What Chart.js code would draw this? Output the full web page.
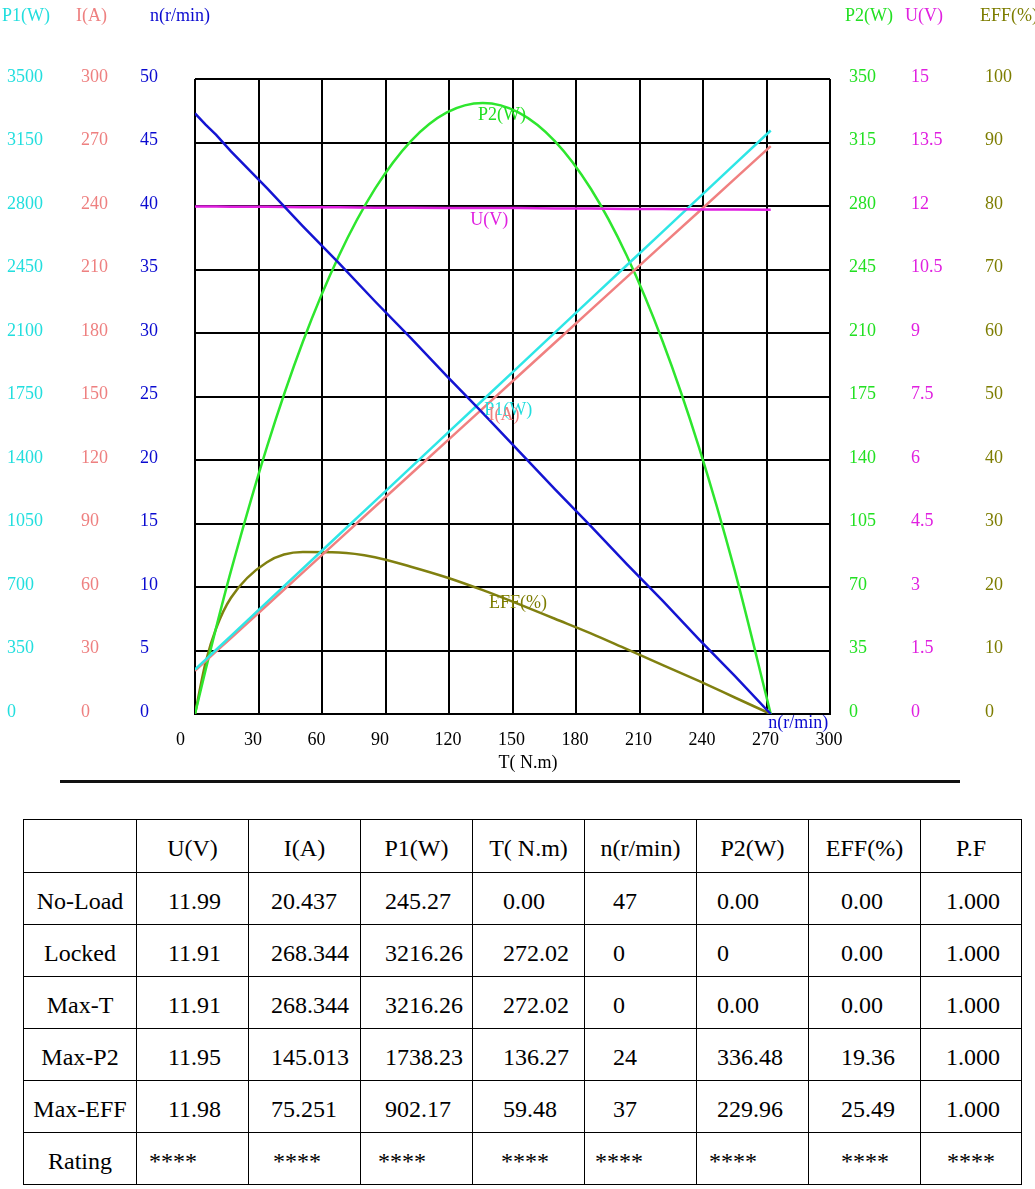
<!DOCTYPE html>
<html>
<head>
<meta charset="utf-8">
<script src="https://cdn.jsdelivr.net/npm/chart.js@4.4.1/dist/chart.umd.min.js"></script>
<style>
html,body{margin:0;padding:0;overflow:hidden;background:#fff;width:1035px;height:1189px;}
#wrap{position:absolute;left:0;top:0;width:1035px;height:780px;}
#rule{position:absolute;left:60px;top:780px;width:900px;height:3px;background:#111;}
table{position:absolute;left:23px;top:819px;width:998px;border-collapse:collapse;table-layout:fixed;
  font-family:"Liberation Serif","Times New Roman",serif;font-size:24px;color:#000;}
td{border:1px solid #000;padding:5px 0 0 0;white-space:nowrap;vertical-align:middle;text-align:left;}
tr{height:52px;}
tr.head{height:53px;}
tr.head td{text-align:center;}
td.name{text-align:center;}
tr.data td:nth-child(2){padding-left:31px;}
tr.data td:nth-child(3){padding-left:22px;}
tr.data td:nth-child(4){padding-left:24px;}
tr.data td:nth-child(5){padding-left:30px;}
tr.data td:nth-child(6){padding-left:28px;}
tr.data td:nth-child(7){padding-left:20px;}
tr.data td:nth-child(8){padding-left:32px;}
tr.data td:nth-child(9){padding-left:25px;}
tr.stars td:nth-child(2){padding-left:12px;}
tr.stars td:nth-child(3){padding-left:24px;}
tr.stars td:nth-child(4){padding-left:17px;}
tr.stars td:nth-child(5){padding-left:28px;}
tr.stars td:nth-child(6){padding-left:10px;}
tr.stars td:nth-child(7){padding-left:12px;}
tr.stars td:nth-child(8){padding-left:32px;}
tr.stars td:nth-child(9){padding-left:26px;}
</style>
</head>
<body>
<div id="wrap"><canvas id="c" width="1035" height="780"></canvas></div>
<div id="rule"></div>
<table id="tbl">
<colgroup><col style="width:113px"><col style="width:112px"><col style="width:112px"><col style="width:112px"><col style="width:112px"><col style="width:112px"><col style="width:112px"><col style="width:112px"><col style="width:101px"></colgroup>
<tbody id="tb"></tbody>
</table>
<script>
// ---------- data ----------
const torque   = [0, 5, 10, 17, 34, 51, 68, 85, 102, 119, 136, 153, 170, 187, 204, 221, 238, 255, 272];
const p1W      = [245.3, 299.6, 354.2, 430.7, 616.4, 802.1, 987.8, 1173.5, 1359.2, 1544.9, 1730.6, 1916.3, 2102.0, 2287.7, 2473.4, 2659.0, 2844.7, 3030.4, 3216.3];
const currentA = [20.4, 25.0, 29.6, 35.9, 51.4, 66.9, 82.4, 97.9, 113.4, 128.9, 144.4, 159.9, 175.4, 190.9, 206.4, 221.9, 237.3, 252.8, 268.3];
const speedN   = [47.3, 46.4, 45.6, 44.3, 41.4, 38.4, 35.5, 32.5, 29.6, 26.6, 23.7, 20.7, 17.7, 14.8, 11.8, 8.9, 5.9, 3.0, 0];
const p2W      = [0, 24.3, 47.7, 78.9, 147.3, 205.3, 252.6, 289.4, 315.8, 331.6, 336.8, 331.5, 315.8, 289.5, 252.6, 205.2, 147.4, 79.0, 0];
const voltU    = [11.99, 11.99, 11.99, 11.98, 11.98, 11.97, 11.97, 11.96, 11.96, 11.95, 11.95, 11.95, 11.94, 11.94, 11.93, 11.93, 11.92, 11.92, 11.91];
const effPct   = [0, 8.1, 13.5, 18.3, 23.9, 25.5, 25.45, 24.7, 23.2, 21.5, 19.5, 17.3, 15.0, 12.7, 10.2, 7.7, 5.2, 2.6, 0];

const xTicks = {min: 0, max: 300, step: 30};
const axisP1  = {min: 0, max: 3500, step: 350};
const axisI   = {min: 0, max: 300, step: 30};
const axisN   = {min: 0, max: 50, step: 5};
const axisP2  = {min: 0, max: 350, step: 35};
const axisU   = {min: 0, max: 15, step: 1.5};
const axisEFF = {min: 0, max: 100, step: 10};

const axisHeaders = ['P1(W)', 'I(A)', 'n(r/min)', 'P2(W)', 'U(V)', 'EFF(%)'];
const xTitle = 'T( N.m)';

// table
const tableHead = ['', 'U(V)', 'I(A)', 'P1(W)', 'T( N.m)', 'n(r/min)', 'P2(W)', 'EFF(%)', 'P.F'];
const rowNoLoad = ['No-Load', '11.99', '20.437', '245.27', '0.00', '47', '0.00', '0.00', '1.000'];
const rowLocked = ['Locked', '11.91', '268.344', '3216.26', '272.02', '0', '0', '0.00', '1.000'];
const rowMaxT   = ['Max-T', '11.91', '268.344', '3216.26', '272.02', '0', '0.00', '0.00', '1.000'];
const rowMaxP2  = ['Max-P2', '11.95', '145.013', '1738.23', '136.27', '24', '336.48', '19.36', '1.000'];
const rowMaxEff = ['Max-EFF', '11.98', '75.251', '902.17', '59.48', '37', '229.96', '25.49', '1.000'];
const rowRating = ['Rating', '****', '****', '****', '****', '****', '****', '****', '****'];

// ---------- styles ----------
const FONT = '"Liberation Serif", "Times New Roman", serif';
const C = {
  p1: '#2ee6e6', i: '#f08080', n: '#1414d2', p2: '#2ee62e', u: '#e020e0', eff: '#808010'
};
const TXT = {
  p1: '#22dede', i: '#ee8080', n: '#0a0ad0', p2: '#22e022', u: '#e020e0', eff: '#7d7d00'
};

// ---------- table ----------
(function buildTable(){
  const tb = document.getElementById('tb');
  const add = (cells, cls) => {
    const tr = document.createElement('tr');
    tr.className = cls;
    cells.forEach((v, k) => {
      const td = document.createElement('td');
      td.textContent = v;
      if (k === 0) td.className = 'name';
      tr.appendChild(td);
    });
    tb.appendChild(tr);
  };
  add(tableHead, 'head');
  [rowNoLoad, rowLocked, rowMaxT, rowMaxP2, rowMaxEff].forEach(r => add(r, 'data'));
  add(rowRating, 'stars');
})();

// ---------- chart ----------
const pts = ys => torque.map((t, k) => ({x: t, y: ys[k]}));

function yAxis(ax, color, position, weight, width, padding, crossAlign, grid) {
  return {
    type: 'linear', position, weight,
    min: ax.min, max: ax.max,
    ticks: {
      stepSize: ax.step, color, padding, crossAlign, labelOffset: -2,
      font: {family: FONT, size: 18},
      callback: v => String(Math.round(v * 10) / 10)
    },
    grid: grid ? {display: true, color: '#000', lineWidth: 2, drawTicks: false} : {display: false, drawTicks: false},
    border: {display: false},
    afterFit: s => { s.width = width; }
  };
}

const headerPos = [
  {x: 2, color: TXT.p1}, {x: 76, color: TXT.i}, {x: 150, color: TXT.n},
  {x: 845, color: TXT.p2}, {x: 905, color: TXT.u}, {x: 980, color: TXT.eff}
];
const curveLabels = [
  {text: 'P2(W)', axis: 'yP2', x: 145, y: 330, color: TXT.p2},
  {text: 'U(V)', axis: 'yU', x: 139, y: 11.67, color: TXT.u},
  {text: 'P1(W)', axis: 'yP1', x: 148, y: 1676, color: TXT.p1},
  {text: 'I(A)', axis: 'yI', x: 146, y: 141, color: TXT.i},
  {text: 'EFF(%)', axis: 'yEFF', x: 152.6, y: 17.5, color: TXT.eff},
  {text: 'n(r/min)', axis: 'yN', x: 285, y: -0.7, color: TXT.n}
];

const textPlugin = {
  id: 'texts',
  afterDraw(chart) {
    const ctx = chart.ctx;
    ctx.save();
    ctx.font = '18px ' + FONT;
    ctx.textBaseline = 'middle';
    ctx.textAlign = 'left';
    axisHeaders.forEach((h, k) => {
      ctx.fillStyle = headerPos[k].color;
      ctx.fillText(h, headerPos[k].x, 16);
    });
    ctx.textAlign = 'center';
    const xs = chart.scales.x;
    curveLabels.forEach(l => {
      ctx.fillStyle = l.color;
      ctx.fillText(l.text, xs.getPixelForValue(l.x), chart.scales[l.axis].getPixelForValue(l.y));
    });
    ctx.fillStyle = '#000';
    ctx.fillText(xTitle, xs.getPixelForValue(157.3), chart.chartArea.bottom + 49);
    ctx.restore();
  }
};

Chart.defaults.font.family = FONT;

new Chart(document.getElementById('c'), {
  type: 'line',
  data: {
    datasets: [
      {label: 'n(r/min)', data: pts(speedN), yAxisID: 'yN', borderColor: C.n},
      {label: 'U(V)', data: pts(voltU), yAxisID: 'yU', borderColor: C.u},
      {label: 'P1(W)', data: pts(p1W), yAxisID: 'yP1', borderColor: C.p1},
      {label: 'I(A)', data: pts(currentA), yAxisID: 'yI', borderColor: C.i},
      {label: 'P2(W)', data: pts(p2W), yAxisID: 'yP2', borderColor: C.p2, cubicInterpolationMode: 'monotone'},
      {label: 'EFF(%)', data: pts(effPct), yAxisID: 'yEFF', borderColor: C.eff, cubicInterpolationMode: 'monotone'}
    ].map(d => Object.assign({borderWidth: 2.5, pointRadius: 0, fill: false, tension: 0}, d))
  },
  options: {
    responsive: false,
    devicePixelRatio: 1,
    animation: false,
    layout: {padding: {left: 7, right: 0, top: 79, bottom: 0}},
    plugins: {legend: {display: false}, tooltip: {enabled: false}},
    scales: {
      x: {
        type: 'linear', position: 'bottom', min: xTicks.min, max: xTicks.max,
        ticks: {
          stepSize: xTicks.step, color: '#000', padding: 15, labelOffset: -1,
          font: {family: FONT, size: 18},
          callback: v => v === 0 ? '0      ' : (v <= 90 ? String(v) + '  ' : String(v))
        },
        grid: {display: true, color: '#000', lineWidth: 2, drawTicks: false},
        border: {display: true, color: '#000', width: 2},
        afterFit: s => { s.height = 66; }
      },
      yP1:  yAxis(axisP1, TXT.p1, 'left', 3, 74, 0, 'far', true),
      yI:   yAxis(axisI, TXT.i, 'left', 2, 59, 0, 'far', false),
      yN:   yAxis(axisN, TXT.n, 'left', 1, 55, 0, 'far', false),
      yP2:  yAxis(axisP2, TXT.p2, 'right', 1, 75, 19, 'near', false),
      yU:   yAxis(axisU, TXT.u, 'right', 2, 74, 6, 'near', false),
      yEFF: yAxis(axisEFF, TXT.eff, 'right', 3, 56, 6, 'near', false)
    }
  },
  plugins: [textPlugin]
});
</script>
</body>
</html>
